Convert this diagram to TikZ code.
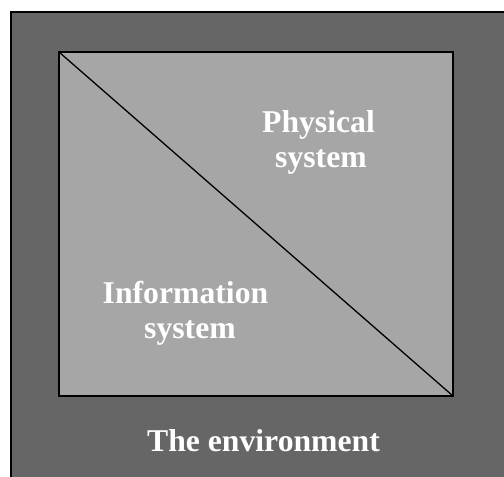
\documentclass[tikz,border=0pt]{standalone}
\usepackage{fontspec}
\setmainfont{Liberation Serif}
\definecolor{envgray}{HTML}{666666}
\definecolor{sysgray}{HTML}{A6A6A6}
\tikzset{
  lbl/.style={anchor=base, text=white, inner sep=0pt, font=\bfseries\fontsize{31.7}{35}\selectfont},
  frame/.style={draw=black, line width=1.6pt}
}
\begin{document}
\begin{tikzpicture}[x=1pt,y=-1pt]
\useasboundingbox (0,0) rectangle (504,477);
\clip (0,0) rectangle (504,477);
\fill[white] (0,0) rectangle (504,477);
\draw[frame, fill=envgray] (11,12) rectangle (530,500);
\coordinate (tl) at (59,52);
\coordinate (br) at (453,396);
\draw[frame, fill=sysgray] (tl) rectangle (br);
\draw[line width=1.3pt] (tl) -- (br);
\node[lbl] (phys1) at (318.5,132) {Physical};
\node[lbl] (phys2) at (321,167) {system};
\node[lbl] (info1) at (185.5,303) {Information};
\node[lbl] (info2) at (190,338) {system};
\node[lbl] (env) at (263.5,451) {The environment};
\end{tikzpicture}
\end{document}
